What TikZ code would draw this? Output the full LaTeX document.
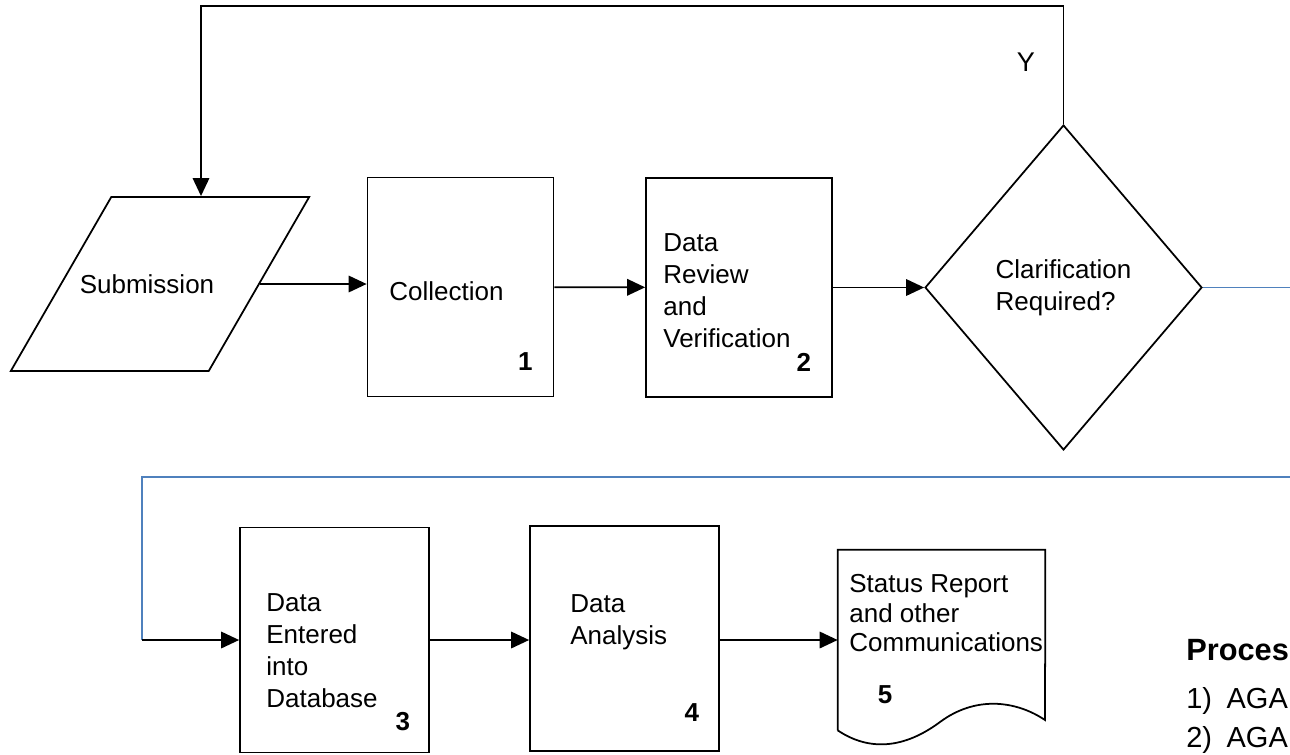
\documentclass[tikz,border=0pt]{standalone}
\usepackage{fontspec}
\setmainfont{Liberation Sans}
\usetikzlibrary{arrows.meta,shapes.geometric}
\definecolor{linkblue}{HTML}{4F81BD}

\begin{document}
\begin{tikzpicture}[x=0.02cm,y=-0.02cm,
  box/.style={draw,line width=1pt,minimum width=3.72cm,minimum height=4.38cm,inner sep=0pt},
  tallbox/.style={box,minimum width=3.78cm,minimum height=4.5cm},
  txt/.style={anchor=north west,align=left,inner sep=0pt,font=\fontsize{14.8}{18.2}\selectfont},
  num/.style={inner sep=0pt,font=\fontsize{14.8}{18}\selectfont\bfseries},
  flow/.style={-{Triangle[length=0.36cm,width=0.33cm]},line width=1pt},
  link/.style={line width=1pt,draw=linkblue}]
 \useasboundingbox (0,0) rectangle (1290,754);
 \clip (0,0) rectangle (1290,754);
 % first row
 \node[trapezium,draw,line width=1pt,trapezium left angle=60,trapezium right angle=120,
   inner xsep=-0.63cm,inner ysep=1.55cm,
   font=\fontsize{14.8}{18}\selectfont] (sub) at (160,284) {Submission\hspace*{0.52cm}};
 \node[box] (coll) at (460.5,287) {};
 \node[box] (rev) at (739,287.5) {};
 \node[diamond,draw,line width=1pt,minimum width=5.54cm,minimum height=6.5cm,inner sep=0pt,
   align=left,font=\fontsize{14.8}{18.2}\selectfont] (clar) at (1063.5,287.5) {Clarification\\Required?};
 \node[txt] (colltxt) at (389,281) {Collection};
 \node[txt] (revtxt) at (663,233) {Data\\Review\\and\\Verification};
 \node[num] (n1) at ([shift={(-29,-36)}]coll.south east) {1};
 \node[num] (n2) at ([shift={(-29,-35)}]rev.south east) {2};
 \node[font=\fontsize{15.4}{18}\selectfont,inner sep=0pt] (yes) at (1026,62) {Y};
 % second row
 \node[tallbox] (dbe) at (334.5,640) {};
 \node[tallbox] (ana) at (624.5,638.5) {};
 \node[minimum width=4.14cm,minimum height=3.6cm,inner sep=0pt] (doc) at (941.5,640) {};
 \draw[line width=1pt] (doc.south west) -- (doc.north west) -- (doc.north east) -- (1045,720)
   .. controls (1015,700) and (975,696) .. (940,722)
   .. controls (905,748) and (870,752) .. (doc.south west);
 \node[txt] (dbetxt) at (266,593) {Data\\Entered\\into\\Database};
 \node[txt] (anatxt) at (570,594) {Data\\Analysis};
 \node[txt,font=\fontsize{14.8}{16.8}\selectfont] (doctxt) at (849,574) {Status Report\\and other\\Communications};
 \node[num] (n3) at ([shift={(-27,-32)}]dbe.south east) {3};
 \node[num] (n4) at ([shift={(-28,-39)}]ana.south east) {4};
 \node[num] (n5) at (885,695) {5};
 % process list, cut at the page edge
 \node[anchor=base west,inner sep=0pt,font=\fontsize{17.5}{20}\selectfont\bfseries] (proc) at (1186,660) {Proces};
 \node[anchor=base west,inner sep=0pt,font=\fontsize{16.5}{20}\selectfont] (item1) at (1186,708) {1)\enspace AGA};
 \node[anchor=base west,inner sep=0pt,font=\fontsize{16.5}{20}\selectfont] (item2) at (1186,747) {2)\enspace AGA};
 % connectors
 \coordinate (edgeR) at (1290,287.5);
 \coordinate (wrapR) at (1290,477);
 \coordinate (wrapL) at (142,477);
 \draw[flow] (sub.east) -- (sub.east -| coll.west);
 \draw[flow] (coll) -- (rev);
 \draw[flow] (rev) -- (clar);
 \draw[flow] (clar.north) -- ++(0,-118) -| ([xshift=0.82cm]sub.north);
 \draw[link] (clar.east) -- (edgeR);
 \draw[link] (wrapR) -- (wrapL) -- (wrapL |- dbe);
 \draw[flow] (wrapL |- dbe) -- (dbe);
 \draw[flow] (dbe) -- (ana.west |- dbe);
 \draw[flow] (ana.east |- dbe) -- (doc.west |- dbe);
\end{tikzpicture}
\end{document}
